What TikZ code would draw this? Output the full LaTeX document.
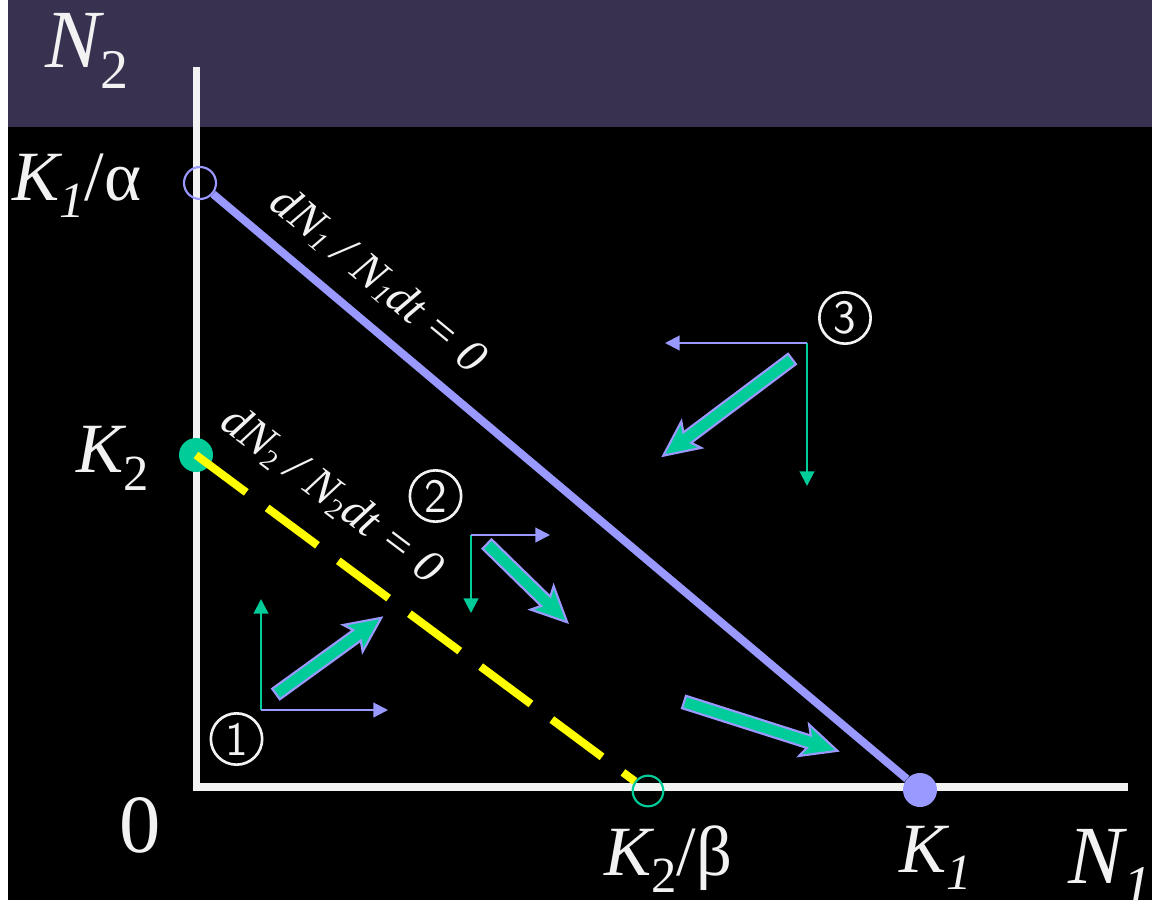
\documentclass[tikz,border=0pt]{standalone}
\usepackage{fontspec}
\setmainfont{Liberation Serif}
\usetikzlibrary{arrows.meta,calc}
\definecolor{band}{HTML}{383250}
\definecolor{lav}{HTML}{9999FF}
\definecolor{grn}{HTML}{00CC99}
\definecolor{ylw}{HTML}{FFFF00}
\definecolor{wht}{HTML}{F2F2F2}
\newcommand{\fs}[1]{\fontsize{#1}{#1}\selectfont}
\newcommand{\lowsub}[3]{\raisebox{-#2}{\fs{#1}#3}}
\newcommand{\blockarr}[4]{%
  \begin{scope}[shift={(#1,#2)}, rotate=#3]
    \draw[blk] (0,-6.5) -- ({#4-30},-6.5) -- ({#4-35},-16.5) -- (#4,0)
      -- ({#4-35},16.5) -- ({#4-30},6.5) -- (0,6.5) -- cycle;
  \end{scope}}
\begin{document}
\begin{tikzpicture}[x=0.75pt,y=-0.75pt,
  lbl/.style={text=wht, inner sep=0pt, anchor=base west},
  axisline/.style={draw=wht, line width=5.3pt},
  harr/.style={draw=lav, line width=1.6pt, -{Triangle[length=11pt,width=11pt]}},
  varr/.style={draw=grn, line width=1.6pt, -{Triangle[length=11pt,width=11pt]}},
  blk/.style={draw=lav, fill=grn, line width=1.6pt, line join=miter},
  numc/.style={circle, draw=wht, line width=2pt, minimum size=38.5pt, inner sep=0pt,
    text=wht, font=\sffamily\fs{36}},
  rotlbl/.style={text=wht, inner sep=0pt, font=\itshape\fs{35}}]
\useasboundingbox (0,0) rectangle (1152,900);
% background
\fill[black] (0,0) rectangle (1152,900);
\fill[band] (8,0) rectangle (1152,127);
\fill[white] (0,0) rectangle (8,900);
% axes
\coordinate (ytop) at (196.5,67);
\coordinate (O) at (196.5,787);
\coordinate (xend) at (1128,787);
\draw[axisline] (ytop) -- (O) -- (xend);
% points
\node[circle, draw=lav, line width=1.6pt, minimum size=24pt, inner sep=0pt] (Ka) at (200,183) {};
\node[circle, fill=lav, minimum size=25.5pt, inner sep=0pt] (K1) at (920,790) {};
\node[circle, fill=grn, minimum size=25.5pt, inner sep=0pt] (K2) at (196,455) {};
\node[circle, draw=grn, line width=1.6pt, minimum size=23pt, inner sep=0pt] (K2b) at (648,791) {};
% isoclines
\draw[lav, line width=6pt] (Ka) -- (K1);
\draw[ylw, line width=6pt, dash pattern=on 47pt off 19.5pt] (K2.center) -- (K2b);
% thin component arrows
\coordinate (o1) at (261,710); \coordinate (o1h) at (388,710); \coordinate (o1v) at (261,599);
\coordinate (o2) at (471,535); \coordinate (o2h) at (550,535); \coordinate (o2v) at (471,613);
\coordinate (o3) at (807,343); \coordinate (o3h) at (665,343); \coordinate (o3v) at (807,486);
\draw[varr] (o1) -- (o1v); \draw[harr] (o1) -- (o1h);
\draw[varr] (o2) -- (o2v); \draw[harr] (o2) -- (o2h);
\draw[varr] (o3) -- (o3v); \draw[harr] (o3) -- (o3h);
% block arrows
\blockarr{276}{694}{35.9}{130}
\blockarr{487}{544}{-44.3}{112}
\blockarr{792}{359}{-143.1}{161}
\blockarr{684}{702}{-17.65}{161}
% circled numbers
\node[numc] (c1) at (236.5,739) {1};
\node[numc] (c2) at (435.5,496) {2};
\node[numc] (c3) at (845,318) {3};
% isocline labels
\node[rotlbl, rotate=-39.5] (l1) at (379,280) {dN\lowsub{21}{3pt}{1} / N\lowsub{21}{3pt}{1}dt = 0};
\node[rotlbl, rotate=-37] (l2) at (332,495) {dN\lowsub{21}{4pt}{\upshape 2} / N\lowsub{21}{4pt}{\upshape 2}dt = 0};
% axis labels
\node[lbl] (n2) at (45,67) {\fs{62}\itshape N\lowsub{42}{16pt}{\upshape 2}};
\node[lbl] (ka) at (12,200) {\fs{53}\itshape K\lowsub{38}{13pt}{1}\upshape/α};
\node[lbl] (k2) at (76,472) {\fs{53}\itshape K\lowsub{38}{14pt}{\upshape 2}};
\node[lbl] (zero) at (119,852) {\fs{62}0};
\node[lbl] (k2b) at (604,875) {\fs{53}\itshape K\lowsub{38}{13pt}{\upshape 2}\upshape/β};
\node[lbl] (k1) at (899,872) {\fs{53}\itshape K\lowsub{38}{13pt}{1}};
\node[lbl] (n1) at (1068,883) {\fs{62}\itshape N\lowsub{42}{16pt}{1}};
\end{tikzpicture}
\end{document}
